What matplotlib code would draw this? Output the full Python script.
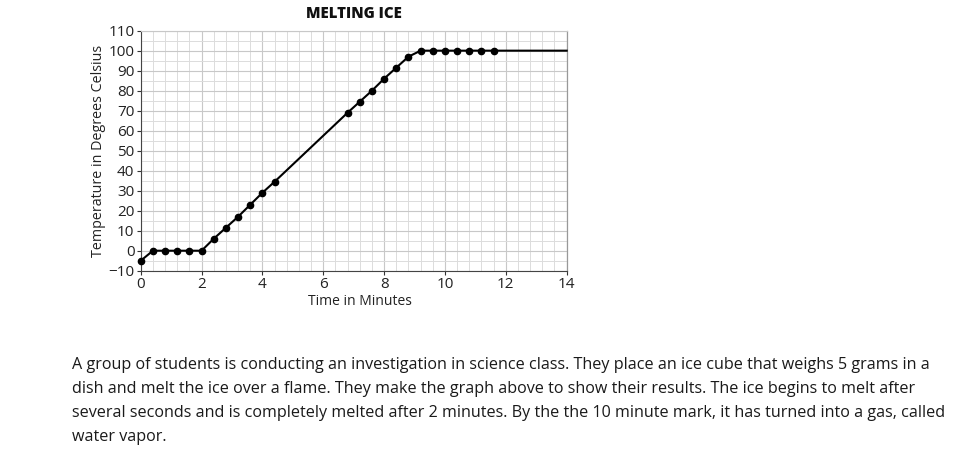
import matplotlib
matplotlib.use("Agg")
import matplotlib.pyplot as plt
from matplotlib.ticker import MultipleLocator

# Data
time_min = [0.0, 0.4, 0.8, 1.2, 1.6, 2.0, 2.4, 2.8, 3.2, 3.6, 4.0, 4.4,
            6.8, 7.2, 7.6, 8.0, 8.4, 8.8, 9.2, 9.6, 10.0, 10.4, 10.8, 11.2, 11.6]
temp_c = [-5, 0, 0, 0, 0, 0, 6, 11.5, 17, 23, 29, 34.5,
          69, 74.5, 80, 86, 91.5, 97, 100, 100, 100, 100, 100, 100, 100]
line_end_time = 14
line_end_temp = 100

x_ticks = [0, 2, 4, 6, 8, 10, 12, 14]
y_ticks = [-10, 0, 10, 20, 30, 40, 50, 60, 70, 80, 90, 100, 110]

title = "MELTING ICE"
x_label = "Time in Minutes"
y_label = "Temperature in Degrees Celsius"
paragraph = [
    "A group of students is conducting an investigation in science class. They place an ice cube that weighs 5 grams in a",
    "dish and melt the ice over a flame. They make the graph above to show their results. The ice begins to melt after",
    "several seconds and is completely melted after 2 minutes. By the the 10 minute mark, it has turned into a gas, called",
    "water vapor.",
]

plt.rcParams['font.family'] = ['Open Sans', 'DejaVu Sans']

fig = plt.figure(figsize=(9.68, 4.59), dpi=100)
ax = fig.add_axes([0.1454, 0.4102, 0.44, 0.523])

ax.set_xlim(0, 14)
ax.set_ylim(-10, 110)
ax.xaxis.set_minor_locator(MultipleLocator(0.4))
ax.yaxis.set_minor_locator(MultipleLocator(5))
ax.set_xticks(x_ticks)
ax.set_yticks(y_ticks)
ax.set_xticklabels([str(v) for v in x_ticks])
ax.set_yticklabels([("\u2212" + str(-v)) if v < 0 else str(v) for v in y_ticks])

ax.grid(which='minor', color='#dcdcdc', linewidth=0.7)
ax.grid(which='major', color='#c8c8c8', linewidth=0.8)
ax.set_axisbelow(True)
ax.tick_params(which='minor', length=0)
ax.tick_params(which='major', length=3, width=0.8, color='#333333',
               labelsize=11, labelcolor='#222222', pad=1.5)

ax.spines['top'].set_color('#c8c8c8')
ax.spines['top'].set_linewidth(0.8)
ax.spines['right'].set_color('#999999')
ax.spines['right'].set_linewidth(0.9)
ax.spines['left'].set_color('#444444')
ax.spines['bottom'].set_color('#444444')
ax.spines['left'].set_linewidth(0.8)
ax.spines['bottom'].set_linewidth(0.8)

ax.plot(time_min + [line_end_time], temp_c + [line_end_temp],
        color='black', linewidth=1.5, clip_on=False, zorder=3)
ax.plot(time_min, temp_c, linestyle='none', marker='o', markersize=4.5,
        color='black', clip_on=False, zorder=4)

ax.set_title(title, fontsize=10.8, fontweight='heavy', pad=9, color='#111111')
ax.set_xlabel(x_label, fontsize=10, color='#222222')
ax.xaxis.set_label_coords(0.515, -0.098)
ax.set_ylabel(y_label, fontsize=10.3, labelpad=2, color='#222222')

y0 = 1 - 369 / 459
for i, line in enumerate(paragraph):
    fig.text(72 / 968, y0 - i * 24 / 459, line, fontsize=11.65, color='#1a1a1a',
             ha='left', va='baseline')

fig.savefig("out.png", dpi=100)
